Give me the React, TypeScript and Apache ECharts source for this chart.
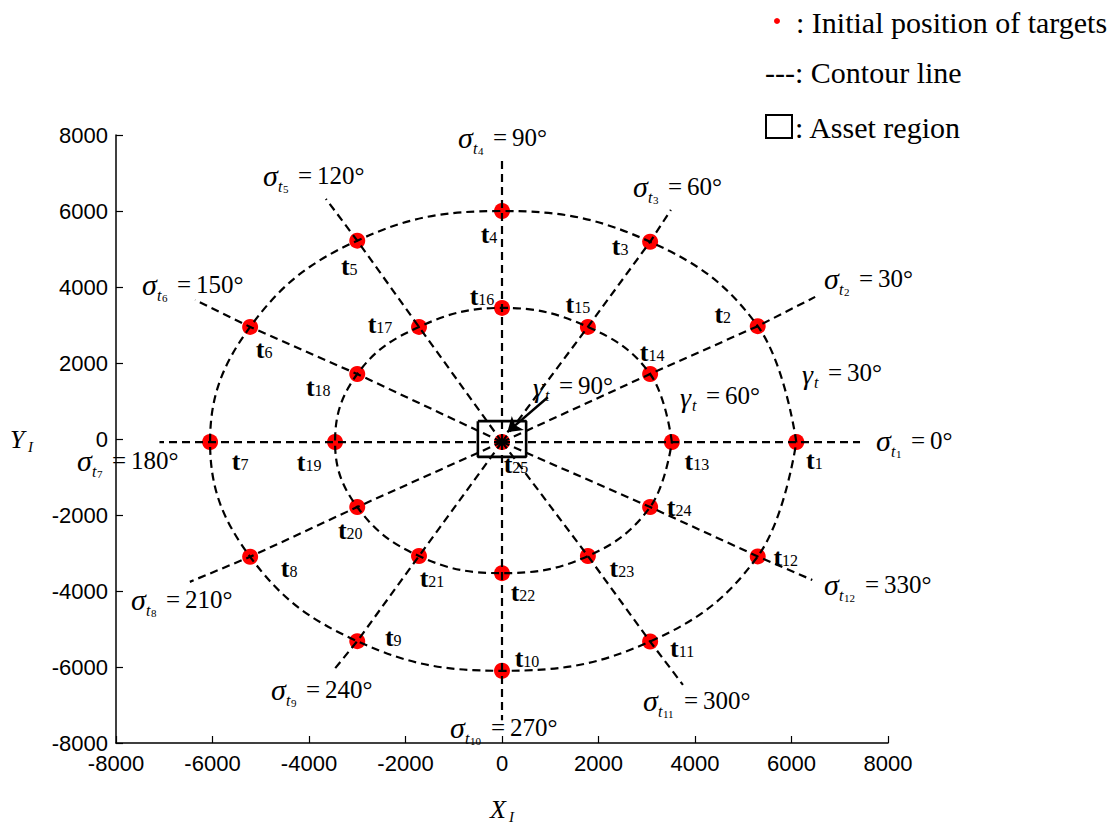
import React, { useEffect, useRef } from "react";
import * as echarts from "echarts";

// Target positions on the outer contour (t1 .. t12), sigma = 0°, 30°, ..., 330°
const OUTER_TARGETS: number[][] = [
  [6100, -80], [5300, 2970], [3070, 5190], [0, 6000],
  [-3000, 5220], [-5220, 2950], [-6050, -80], [-5220, -3100],
  [-3000, -5320], [0, -6100], [3070, -5330], [5300, -3090],
];

// Target positions on the inner contour (t13 .. t24)
const INNER_TARGETS: number[][] = [
  [3520, -80], [3070, 1710], [1780, 2950], [0, 3450],
  [-1720, 2950], [-3000, 1710], [-3460, -80], [-3000, -1790],
  [-1720, -3080], [0, -3530], [1780, -3080], [3070, -1790],
];

// Central target t25
const CENTER_TARGET: number[] = [0, -80];

// Outer end of each radial contour line
const RADIAL_ENDS: number[][] = [
  [7420, -80], [6490, 3740], [3500, 6030], [0, 7420],
  [-3650, 6320], [-6360, 3660], [-7100, -80], [-6470, -3760],
  [-3520, -6130], [0, -7400], [3750, -6470], [6430, -3710],
];

const SIGMA_ANGLES: number[] = [0, 30, 60, 90, 120, 150, 180, 210, 240, 270, 300, 330];

// Asset region corners [xMin, xMax, yMin, yMax]
const ASSET_REGION: number[] = [-500, 500, -470, 470];

// Arrow pointing at the central target
const ARROW_COORDS: number[][] = [[950, 1100], [110, 180]];

const AXIS_MIN = -8000;
const AXIS_MAX = 8000;
const AXIS_STEP = 2000;

// Label placement (pixel offset of each "t" label from its marker), t1 .. t25
const LABEL_OFFSETS: number[][] = [
  [18, 18], [-35, -12], [-30, 5], [-13, 23], [-8, 26], [14, 23],
  [30, 19], [39, 12], [36, -4], [25, -12], [32, 7], [28, 1],
  [25, 19], [2, -22], [-10, -22], [-20, -11], [-39, -2], [-39, 13],
  [-26, 20], [-7, 23], [13, 22], [21, 19], [34, 12], [29, 0],
  [14, 22],
];

// Sigma annotation anchors: [left x, middle y] in pixels, same order as SIGMA_ANGLES
const SIGMA_ANCHORS: number[][] = [
  [876, 440], [824, 278], [633, 186], [458, 137], [263, 175], [142, 284],
  [77, 460], [131, 599], [271, 689], [450, 727], [643, 700], [824, 584],
];

// Gamma annotations: [left x, middle y, angle]
const GAMMA_LABELS: number[][] = [
  [533, 385, 90],
  [680, 395, 60],
  [802, 372, 30],
];

const SERIF = '"Liberation Serif", "Times New Roman", serif';
const SANS = '"Liberation Sans", Arial, sans-serif';
const DASH = [8, 5];

function txt(x: number, y: number, text: string, size: number, opts: any = {}) {
  return {
    type: "text",
    x,
    y,
    z: 100,
    style: {
      text,
      fill: opts.fill || "#000",
      fontFamily: SERIF,
      fontSize: size,
      fontStyle: opts.italic ? "italic" : "normal",
      fontWeight: opts.bold ? "bold" : "normal",
      align: opts.align || "left",
      textAlign: opts.align || "left",
      verticalAlign: "middle",
      textVerticalAlign: "middle",
    },
  };
}

function sigmaLabel(x: number, y: number, idx: number, angle: number) {
  const n = String(idx);
  const restX = 21 + n.length * 6 + 8;
  return {
    type: "group",
    children: [
      txt(x, y, "\u03c3", 30, { italic: true }),
      txt(x + 15, y + 11, "t", 16, { italic: true }),
      txt(x + 20, y + 14, n, 11),
      txt(x + restX, y, "=\u2009" + angle + "\u00b0", 25),
    ],
  };
}

function gammaLabel(x: number, y: number, angle: number) {
  return {
    type: "group",
    children: [
      txt(x, y + 2, "\u03b3", 28, { italic: true }),
      txt(x + 12, y + 10, "t", 16, { italic: true }),
      txt(x + 26, y, "=\u2009" + angle + "\u00b0", 25),
    ],
  };
}

export default function App() {
  const ref = useRef<HTMLDivElement>(null);

  useEffect(() => {
    if (!ref.current) return;
    const chart = echarts.init(ref.current, null, { renderer: "svg" });

    const dashed = { color: "#000", width: 2.2, type: DASH };

    const radialSeries = SIGMA_ANGLES.map((a, i) => ({
      type: "line",
      name: "radial-" + a,
      data: [CENTER_TARGET, INNER_TARGETS[i], OUTER_TARGETS[i], RADIAL_ENDS[i]],
      showSymbol: false,
      symbol: "none",
      lineStyle: dashed,
      z: 3,
      silent: true,
    }));

    const closeLoop = (pts: number[][]) => [...pts, pts[0]];

    const allTargets = [...OUTER_TARGETS, ...INNER_TARGETS, CENTER_TARGET];
    const [ax0, ax1, ay0, ay1] = ASSET_REGION;

    const axisCommon = {
      type: "value",
      min: AXIS_MIN,
      max: AXIS_MAX,
      interval: AXIS_STEP,
      axisLine: { show: true, onZero: false, lineStyle: { color: "#000", width: 1.5 } },
      axisTick: { show: true, inside: true, length: 7, lineStyle: { color: "#000", width: 1.2 } },
      splitLine: { show: false },
    };

    const option: any = {
      animation: false,
      backgroundColor: "#fff",
      grid: { left: 116, right: 227, top: 135, bottom: 84, containLabel: false },
      xAxis: {
        ...axisCommon,
        axisLabel: { color: "#000", fontSize: 22, fontFamily: SANS, margin: 9, formatter: (v: number) => String(v) },
      },
      yAxis: {
        ...axisCommon,
        axisLabel: { color: "#000", fontSize: 22, fontFamily: SANS, margin: 8, formatter: (v: number) => String(v) },
      },
      series: [
        {
          type: "scatter",
          name: "targets",
          z: 1,
          symbol: "circle",
          symbolSize: 16,
          itemStyle: { color: "#ff0000", opacity: 1 },
          data: allTargets.map((p, i) => ({
            value: p,
            name: "t" + (i + 1),
            label: { offset: LABEL_OFFSETS[i] },
          })),
          label: {
            show: true,
            position: "inside",
            color: "#000",
            opacity: 1,
            formatter: (p: any) => "{b|t}{s|" + (p.dataIndex + 1) + "}",
            rich: {
              b: { fontFamily: SERIF, fontWeight: "bold", fontSize: 26, lineHeight: 22, color: "#000" },
              s: { fontFamily: SERIF, fontSize: 16, lineHeight: 2, verticalAlign: "bottom", color: "#000" },
            },
          },
        },
        {
          type: "line",
          name: "outer-contour",
          data: closeLoop(OUTER_TARGETS),
          smooth: 0.4,
          showSymbol: false,
          symbol: "none",
          lineStyle: dashed,
          z: 3,
          silent: true,
        },
        {
          type: "line",
          name: "inner-contour",
          data: closeLoop(INNER_TARGETS),
          smooth: 0.4,
          showSymbol: false,
          symbol: "none",
          lineStyle: dashed,
          z: 3,
          silent: true,
        },
        ...radialSeries,
        {
          type: "line",
          name: "asset-region",
          data: [[ax0, ay1], [ax1, ay1], [ax1, ay0], [ax0, ay0], [ax0, ay1]],
          showSymbol: false,
          symbol: "none",
          lineStyle: { color: "#000", width: 2.6, type: "solid" },
          z: 4,
          silent: true,
        },
        {
          type: "lines",
          name: "arrow",
          coordinateSystem: "cartesian2d",
          data: [{ coords: ARROW_COORDS }],
          symbol: ["none", "arrow"],
          symbolSize: 14,
          lineStyle: { color: "#000", width: 2.5, opacity: 1 },
          z: 5,
          silent: true,
        },
      ],
      graphic: [
        // legend
        { type: "circle", shape: { cx: 777, cy: 21, r: 3 }, style: { fill: "#ff0000" }, z: 100 },
        txt(796, 22, ": Initial position of targets", 30),
        txt(765, 72, "---: Contour line", 30),
        {
          type: "rect",
          shape: { x: 766, y: 115, width: 26, height: 23 },
          style: { fill: "none", stroke: "#000", lineWidth: 2 },
          z: 100,
        },
        txt(795, 127, ": Asset region", 30),
        // axis names
        txt(10, 439, "Y", 26, { italic: true }),
        txt(28, 447, "I", 15, { italic: true }),
        txt(490, 809, "X", 26, { italic: true }),
        txt(509, 817, "I", 15, { italic: true }),
        // sigma annotations
        ...SIGMA_ANGLES.map((a, i) => sigmaLabel(SIGMA_ANCHORS[i][0], SIGMA_ANCHORS[i][1], i + 1, a)),
        // gamma annotations
        ...GAMMA_LABELS.map((g) => gammaLabel(g[0], g[1], g[2])),
      ],
    };

    chart.setOption(option);
    return () => chart.dispose();
  }, []);

  return (
    <div
      ref={ref}
      style={{ position: "absolute", left: 0, top: 0, width: 1115, height: 827, background: "#fff" }}
    />
  );
}
